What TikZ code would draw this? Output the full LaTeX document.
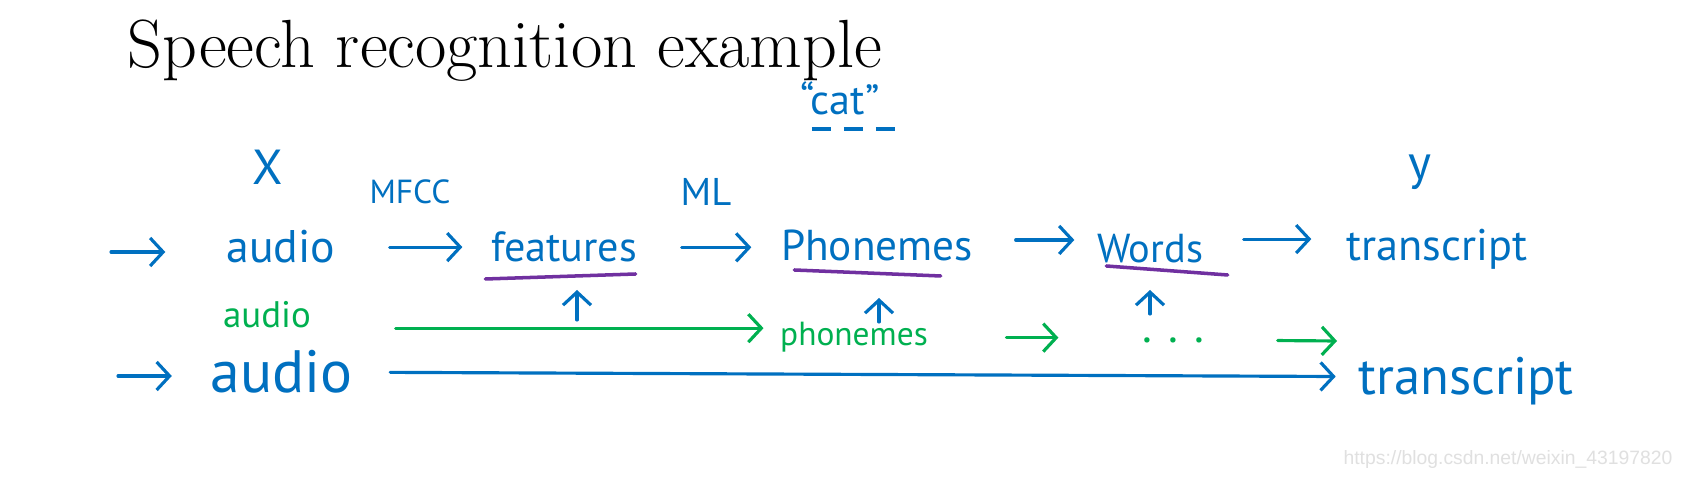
\documentclass[tikz,border=0pt]{standalone}
\usepackage{fontspec}
\usepackage{tikz}
\usetikzlibrary{arrows.meta, calc}
\newfontfamily\handfont{PT Sans}
\newfontfamily\markfont{Liberation Sans}
\definecolor{penblue}{RGB}{0,112,192}
\definecolor{pengreen}{RGB}{0,176,80}
\definecolor{penpurple}{RGB}{112,48,160}
\tikzset{
  handword/.style={inner sep=0pt, anchor=base, text=penblue, font=\handfont\fontsize{#1}{#1}\selectfont},
  greenword/.style={handword=#1, text=pengreen},
  titletext/.style={inner sep=0pt, anchor=base west, font=\fontsize{19.4}{23}\selectfont},
  penarrow/.style={-{Straight Barb[length=1.3mm,width=2.8mm]}, line width=0.9pt, draw=penblue, line cap=round},
  greenarrow/.style={penarrow, draw=pengreen},
  markline/.style={line width=1pt, draw=penpurple, line cap=round},
  dashline/.style={line width=1pt, draw=penblue, dash pattern=on 1.9mm off 1.3mm},
  watermark/.style={inner sep=0pt, text=black!12, font=\markfont\fontsize{5.5}{6}\selectfont}
}

\begin{document}
\begin{tikzpicture}
  \fill[white] (0,0) rectangle (16.84,4.80);
  \useasboundingbox (0,0) rectangle (16.84,4.80);
  \node[titletext] (title) at (1.27,4.12) {Speech recognition example};
  \node[handword=13, minimum width=1.22cm] (audio1) at (2.81,2.17) {audio};
  \node[handword=9.5] (mfcc) at (4.10,2.76) {MFCC};
  \node[handword=12, minimum width=1.44cm] (features) at (5.64,2.18) {features};
  \node[handword=11] (ml) at (7.06,2.74) {ML};
  \node[handword=12.3, minimum width=1.96cm] (phonemes) at (8.77,2.19) {Phonemes};
  \node[handword=11.5, minimum width=1.01cm] (words) at (11.50,2.17) {Words};
  \node[handword=12.6, minimum width=1.82cm] (transcript1) at (14.37,2.19) {transcript};
  \node[handword=14] (xlabel) at (2.68,2.95) {X};
  \node[handword=14, anchor=center] (ylabel) at (14.20,3.08) {y};
  \node[handword=12, anchor=center, minimum width=1.13cm] (cat) at (8.40,3.82) {“cat”};
  \node[greenword=10.5, minimum width=0.88cm] (audio2) at (2.67,1.52) {audio};
  \node[greenword=9.5, minimum width=1.34cm] (phonemes2) at (8.54,1.34) {phonemes};
  \node[greenword=13, anchor=center, minimum width=0.59cm] (dots) at (11.73,1.40) {. . .};
  \node[handword=17, minimum width=1.45cm] (audio3) at (2.82,0.87) {audio};
  \node[handword=15, minimum width=2.14cm] (transcript3) at (14.66,0.85) {transcript};
  \node[watermark] (mark) at (15.08,0.20) {https://blog.csdn.net/weixin\_43197820};
  \coordinate (in1) at (1.11,2.28);
  \coordinate (in3) at (1.18,1.04);
  \coordinate (out2) at (13.37,1.39);
  \coordinate (up1) at (5.77,1.60);
  \coordinate (up2) at (8.79,1.58);
  \coordinate (up3) at (11.50,1.66);
  \draw[penarrow, shorten >=0.54cm] (in1) -- (in1 -| audio1.west);
  \draw[penarrow, shorten <=0.47cm, shorten >=0.28cm] (audio1.east) -- (audio1.east -| features.west);
  \draw[penarrow, shorten <=0.44cm, shorten >=0.27cm] (features.east) -- (features.east -| phonemes.west);
  \draw[penarrow, shorten <=0.40cm, shorten >=0.22cm] ([yshift=0.6mm]phonemes.east) -- ([yshift=0.6mm]phonemes.east -| words.west);
  \draw[penarrow, shorten <=0.40cm, shorten >=0.34cm] ([yshift=1mm]words.east) -- ([yshift=1mm]words.east -| transcript1.west);
  \draw[markline] ([shift={(-0.05,-0.17)}]features.base west) -- ([shift={(-0.02,-0.12)}]features.base east);
  \draw[markline] ([shift={(0.16,-0.09)}]phonemes.base west) -- ([shift={(-0.35,-0.15)}]phonemes.base east);
  \draw[markline] ([shift={(0.10,-0.03)}]words.base west) -- ([shift={(0.24,-0.12)}]words.base east);
  \draw[dashline] ([shift={(0.29,-0.31)}]cat.west) -- ([shift={(-0.02,-0.31)}]cat.east);
  \draw[penarrow, shorten >=0.28cm] (up1) -- (up1 |- features.base);
  \draw[penarrow, shorten >=0.37cm] (up2) -- (up2 |- phonemes.base);
  \draw[penarrow, shorten >=0.27cm] (up3) -- (up3 |- words.base);
  \draw[greenarrow, shorten <=0.84cm, shorten >=0.16cm] ([yshift=-1.3mm]audio2.east) -- ([yshift=-1.3mm]audio2.east -| phonemes2.west);
  \draw[greenarrow, shorten <=0.78cm, shorten >=0.83cm] (phonemes2.east) -- (phonemes2.east -| dots.west);
  \draw[greenarrow, shorten <=0.73cm] (dots.east) -- (out2);
  \draw[penarrow, shorten >=0.37cm] (in3) -- (in3 -| audio3.west);
  \draw[penarrow, shorten <=0.35cm, shorten >=0.22cm] (audio3.east) -- ([yshift=0.5mm]transcript3.west);
\end{tikzpicture}
\end{document}
